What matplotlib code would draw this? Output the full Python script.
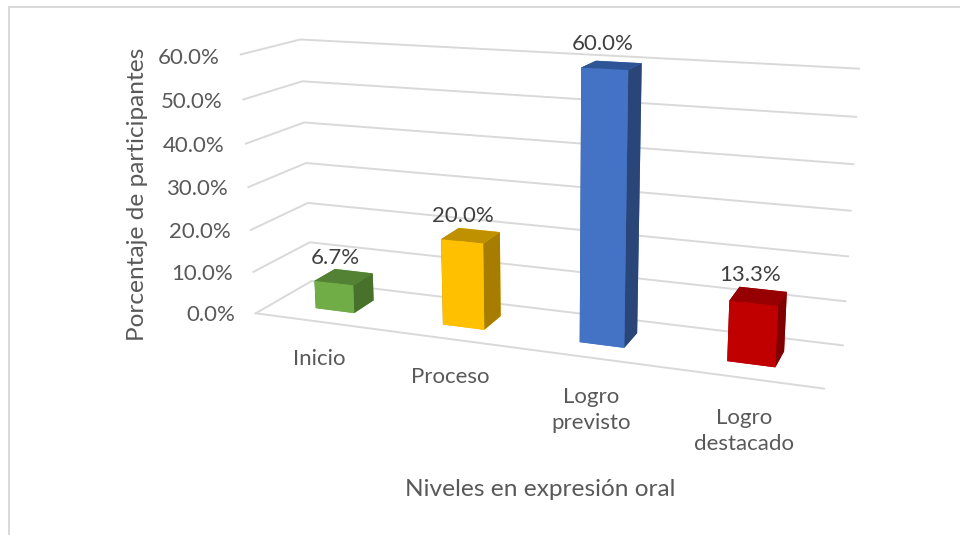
import matplotlib
matplotlib.use('Agg')
import matplotlib.pyplot as plt
from matplotlib.lines import Line2D
from mpl_toolkits.mplot3d import proj3d

plt.rcParams['font.family'] = ['Lato', 'DejaVu Sans']

categories = ['Inicio', 'Proceso', 'Logro\nprevisto', 'Logro\ndestacado']
values = [6.7, 20.0, 60.0, 13.3]
value_labels = ['6.7%', '20.0%', '60.0%', '13.3%']
grid_values = [0, 10, 20, 30, 40, 50, 60]
tick_labels = ['0.0%', '10.0%', '20.0%', '30.0%', '40.0%', '50.0%', '60.0%']

front_colors = ['#70AD47', '#FFC000', '#4472C4', '#C00000']
top_colors = ['#548235', '#BF9000', '#2F5597', '#960000']
side_colors = ['#48722B', '#A67D00', '#2A4678', '#7E0000']

W, H = 960, 535
fig = plt.figure(figsize=(W / 100, H / 100), dpi=100)
# axes box found by fitting the view to the gridline corners
size = 649.7
ax = fig.add_axes([205.2 / W, 2.9 / H, size / W, size / H], projection='3d')
ax.computed_zorder = False
ax.set_xlim(0, 4)
ax.set_ylim(0, 1)
ax.set_zlim(0, 60)
ax.view_init(14.517, -69.455, 0.135)
ax.set_proj_type('persp', focal_length=0.38445)
ax.set_box_aspect((1, 0.19687, 0.46163))
ax.set_xticks([])
ax.set_yticks([])
ax.set_zticks([])
ax.set_axis_off()


# label at a 3D data point, kept as plain 2D text
def label3d(x, y, z, s, **kw):
    xp, yp, _ = proj3d.proj_transform(x, y, z, ax.get_proj())
    ax.text2D(xp, yp, s, transform=ax.transData, va='center', fontsize=16, **kw)


grid_color = '#D9D9D9'
for v, lab in zip(grid_values, tick_labels):
    ax.plot([0, 0, 4], [0, 1, 1], [v, v, v], color=grid_color, lw=1.4, zorder=1, clip_on=False)
    label3d(-0.17, 0, v - 1, lab, ha='right', color='#595959')
ax.plot([0, 4], [0, 0], [0, 0], color=grid_color, lw=1.4, zorder=1, clip_on=False)

for i, v in enumerate(values):
    # face order in bar3d: -z, +z, -y (front), +y, -x, +x (side)
    cols = [front_colors[i], top_colors[i], front_colors[i], front_colors[i], side_colors[i], side_colors[i]]
    ax.bar3d(i + 0.345, 0.31, 0, 0.31, 0.38, v, color=cols, shade=False, linewidth=0, zorder=2 + i)
    label3d(i + 0.44, 0.5, v + 4.4, value_labels[i], ha='center', color='#404040', zorder=10)


# text placed on the figure, pixel positions from the reference
def ftext(x, y, s, **kw):
    fig.text(x / W, 1 - y / H, s, ha='center', va='center', **kw)


cat_pos = [(319, 359), (450, 377), (591, 410), (744, 431)]
for (x, y), c in zip(cat_pos, categories):
    ftext(x, y, c, fontsize=16, color='#595959', linespacing=1.4)
ftext(137, 194, 'Porcentaje de participantes', fontsize=17.6, color='#595959', rotation=90)
ftext(540, 489, 'Niveles en expresión oral', fontsize=17.6, color='#595959')

# chart frame
fig.add_artist(Line2D([9 / W, 9 / W], [0, 1 - 7 / H], color=grid_color, lw=1.4))
fig.add_artist(Line2D([9 / W, 1], [1 - 7 / H, 1 - 7 / H], color=grid_color, lw=1.4))

fig.savefig('out.png', dpi=100)
